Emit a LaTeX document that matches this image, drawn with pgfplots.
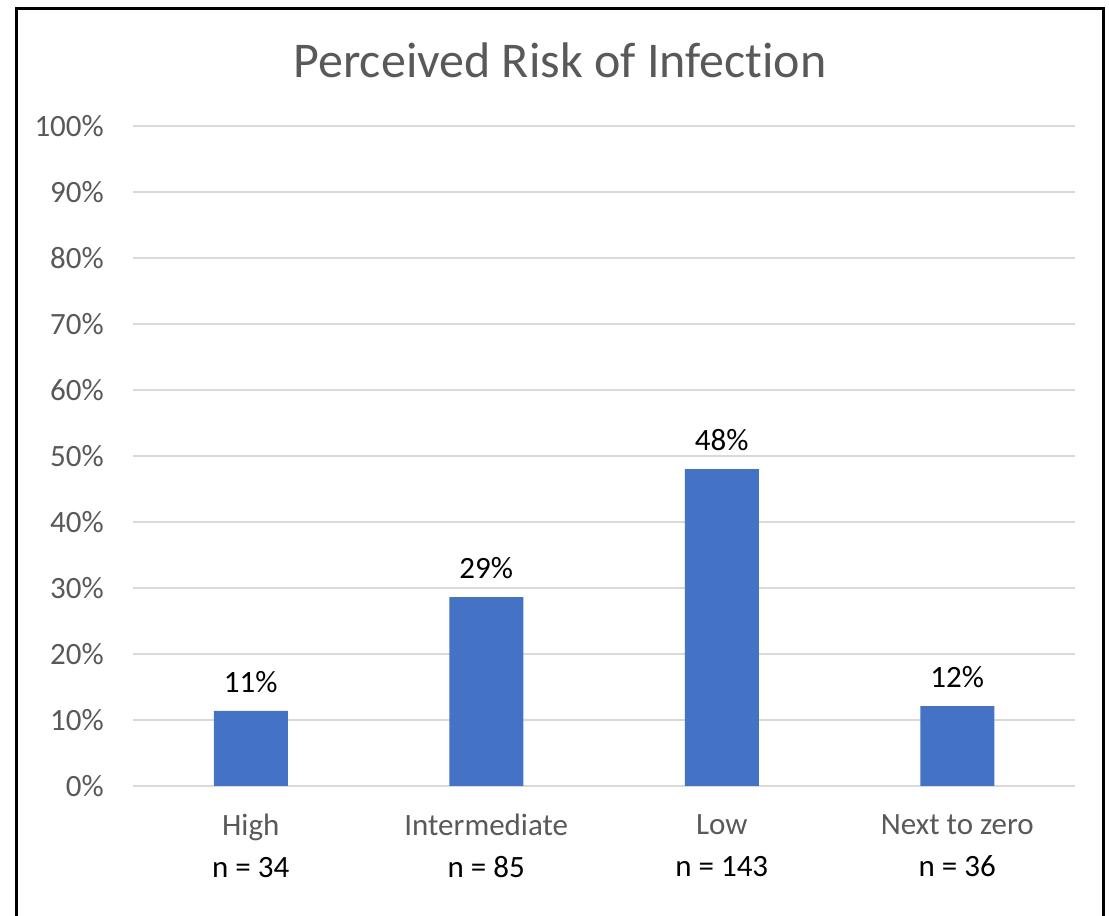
\documentclass[border=0pt]{standalone}
\usepackage{fontspec}
\setmainfont{Carlito}[Ligatures=CommonOff]
\usepackage{pgfplots}
\pgfplotsset{compat=1.18}
\usepackage{pgfplotstable}
\definecolor{barblue}{HTML}{4472C4}
\definecolor{txtgray}{HTML}{595959}
\definecolor{gridgray}{HTML}{D9D9D9}
\pgfplotstableread{
x y
0 11.4
1 28.6
2 48.0
3 12.1
}\riskdata
\begin{document}
\begin{tikzpicture}[x=1bp,y=1bp]
\useasboundingbox (0,0) rectangle (1109,916);
\draw[line width=2.5bp, black] (16.5,-10) -- (16.5,907.5) -- (1103.5,907.5) -- (1103.5,-10);
\node[anchor=base, text=txtgray, font=\fontsize{50bp}{60bp}\selectfont, inner sep=0] at (560,838) {Perceived Risk of Infection};
\begin{axis}[
  at={(133bp,130bp)}, anchor=south west,
  scale only axis, width=942bp, height=660bp,
  xmin=-0.5, xmax=3.5, ymin=0, ymax=100,
  axis line style={draw=none},
  axis x line*=bottom,
  /pgf/number format/assume math mode=true,
  ytick={0,10,...,100},
  yticklabels={0\%,10\%,20\%,30\%,40\%,50\%,60\%,70\%,80\%,90\%,100\%},
  xtick={0,1,2,3},
  xticklabels={{High\\{\color{black}n = 34}},{Intermediate\\{\color{black}n = 85}},{Low\\{\color{black}n = 143}},{Next to zero\\{\color{black}n = 36}}},
  major tick length=0pt,
  ymajorgrids, grid style={gridgray, line width=1.5bp},
  yticklabel style={text=txtgray, font=\fontsize{31bp}{40bp}\selectfont, anchor=east, inner sep=0pt, xshift=-29bp},
  xticklabel style={text=txtgray, font=\fontsize{31bp}{42bp}\selectfont, align=center, anchor=north, inner sep=0pt, yshift=-28bp},
  ybar, bar width=74bp,
  nodes near coords={\pgfmathprintnumber[fixed,precision=0,assume math mode=true]{\pgfplotspointmeta}\%},
  every node near coord/.append style={text=black, font=\fontsize{31bp}{40bp}\selectfont, anchor=south, inner sep=0pt, yshift=18bp},
  clip=false,
]
\addplot[fill=barblue, draw=none] table[x=x,y=y] {\riskdata};
\end{axis}
\end{tikzpicture}
\end{document}
